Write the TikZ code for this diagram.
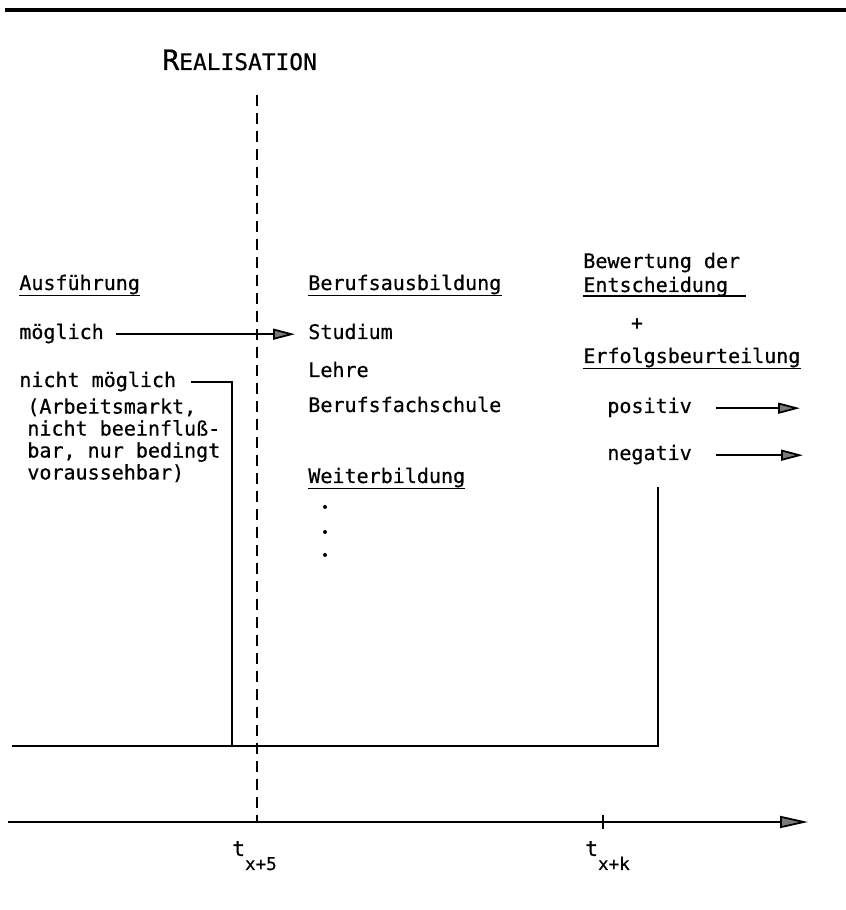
\documentclass[tikz,border=0pt]{standalone}
\usepackage{fontspec}
\setmainfont{DejaVu Sans Mono}[FakeBold=0.6]
\definecolor{tipgray}{HTML}{7A7A7A}
\usetikzlibrary{arrows.meta}

\begin{document}
\begin{tikzpicture}[
  txt/.style={inner sep=0pt,anchor=base west,font=\fontsize{11.4pt}{12.5pt}\selectfont},
  uline/.style={line width=0.9pt},
  wire/.style={line width=1.1pt},
  flow/.style={-{Triangle[length=4.4mm,width=2.2mm,fill=tipgray,line width=1pt]},line width=1.1pt},
  axis/.style={-{Triangle[length=5.6mm,width=2.4mm,fill=tipgray,line width=1pt]},line width=1.2pt},
  cut/.style={dash pattern=on 0.22cm off 0.14cm,line width=1pt}]
  \useasboundingbox (0,0) rectangle (16.92,18.2);
  \draw[line width=1.8pt] (0.1,18.0) -- (16.92,18.0);
  \node[txt] (real) at (3.24,16.8) {{\fontsize{16pt}{16pt}\selectfont R}\fontsize{13pt}{13pt}\selectfont EALISATION};
  \node[txt] (aus)    at (0.38,12.4)  {Ausführung};
  \node[txt] (moeg)   at (0.38,11.42) {möglich};
  \node[txt] (nicht)  at (0.38,10.46) {nicht möglich};
  \node[txt,anchor=north west,align=left] (markt) at (0.54,10.24)
    {(Arbeitsmarkt,\\nicht beeinfluß-\\bar, nur bedingt\\voraussehbar)};
  \node[txt] (beruf)  at (6.16,12.4)  {Berufsausbildung};
  \node[txt] (stud)   at (6.16,11.42) {Studium};
  \node[txt] (lehre)  at (6.16,10.66) {Lehre};
  \node[txt] (bfs)    at (6.16,9.96)  {Berufsfachschule};
  \node[txt] (weiter) at (6.16,8.54)  {Weiterbildung};
  \node[txt] (bew)    at (11.66,12.84){Bewertung der};
  \node[txt] (ents)   at (11.66,12.36){Entscheidung};
  \node[txt,anchor=center] (plus) at (12.74,11.72) {+};
  \node[txt] (erf)    at (11.66,10.94){Erfolgsbeurteilung};
  \node[txt] (pos)    at (12.14,9.94) {positiv};
  \node[txt] (neg)    at (12.14,9.0)  {negativ};
  \node[txt] (t5)     at (4.64,1.08)  {\fontsize{12pt}{12pt}\selectfont t\raisebox{-0.28cm}{\fontsize{10pt}{10pt}\selectfont x+5}};
  \node[txt] (tk)     at (11.7,1.08)  {\fontsize{12pt}{12pt}\selectfont t\raisebox{-0.28cm}{\fontsize{10pt}{10pt}\selectfont x+k}};
  \coordinate (cuttop)    at (5.14,16.3);
  \coordinate (cutbot)    at (5.14,1.76);
  \coordinate (axstart)   at (0.16,1.76);
  \coordinate (axend)     at (16.16,1.76);
  \coordinate (tick)      at (12.06,1.76);
  \coordinate (nichtdown) at (4.64,3.28);
  \coordinate (flowstart) at (0.24,3.28);
  \coordinate (negdown)   at (13.16,8.46);
  \coordinate (posout)    at (16.0,10.07);
  \coordinate (negout)    at (16.06,9.12);
  \foreach \n in {aus,beruf,weiter,erf}
    \draw[uline] ([yshift=-0.11cm]\n.base west) -- ([yshift=-0.11cm]\n.base east);
  \draw[uline] ([yshift=-0.08cm]ents.base west) -- ([xshift=0.36cm,yshift=-0.08cm]ents.base east);
  \foreach \y in {8.06,7.56,7.10}
    \fill (6.5,\y) circle (0.04);
  \draw[cut] (cuttop) -- (cutbot);
  \draw[flow] ([xshift=0.24cm]moeg.mid east) -- ([xshift=-0.26cm]stud.mid west);
  \draw[wire] ([xshift=0.3cm]nicht.mid east) -| (nichtdown);
  \draw[wire] (flowstart) -| (negdown);
  \draw[flow] ([xshift=0.48cm]pos.mid east) -- (pos.mid east -| posout);
  \draw[flow] ([xshift=0.48cm]neg.mid east) -- (neg.mid east -| negout);
  \draw[axis] (axstart) -- (axend);
  \draw[wire] ([yshift=0.15cm]tick) -- ([yshift=-0.15cm]tick);
\end{tikzpicture}
\end{document}
